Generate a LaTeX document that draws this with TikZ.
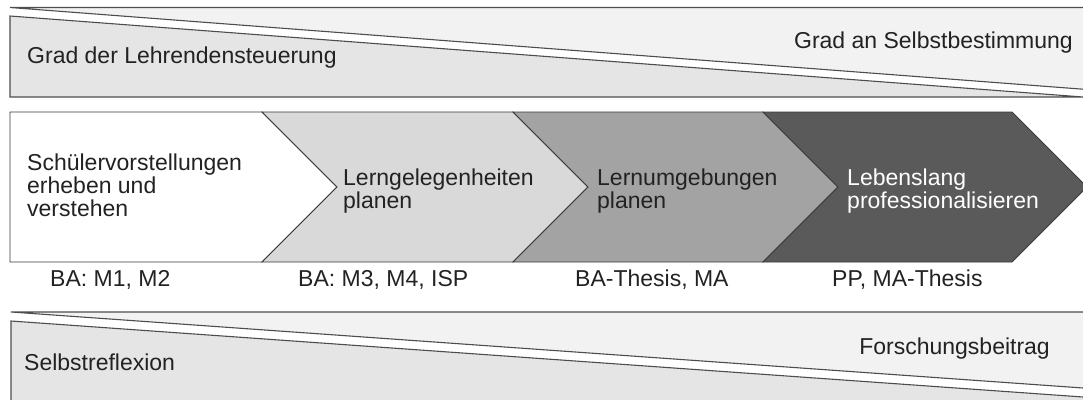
\documentclass[tikz,border=0pt]{standalone}
\usepackage{fontspec}
\setmainfont{Liberation Sans}
\definecolor{bandlight}{HTML}{F2F2F2}
\definecolor{banddark}{HTML}{E5E5E5}
\definecolor{bandline}{HTML}{4D4D4D}
\definecolor{chevline}{HTML}{3A3A3A}
\definecolor{cA}{HTML}{FFFFFF}
\definecolor{cB}{HTML}{D9D9D9}
\definecolor{cC}{HTML}{A3A3A3}
\definecolor{cD}{HTML}{5A5A5A}
\definecolor{txt}{HTML}{222222}
\begin{document}
\begin{tikzpicture}[x=1pt,y=-1pt,line join=miter,
  band/.style={draw=bandline,line width=1.1pt},
  chev/.style={draw=chevline,line width=0.9pt},
  lbl/.style={font=\fontsize{23}{23}\selectfont,text=txt,inner sep=0pt},
  multi/.style={lbl,align=left,anchor=base west}]
\useasboundingbox (0,0) rectangle (1083,399);
\begin{scope}
\clip (0,0) rectangle (1083,399);
% top band
\filldraw[band,fill=bandlight] (10,7.5) -- (1100,7.5) -- (1100,90.5) -- cycle;
\filldraw[band,fill=banddark] (10,16) -- (1083,97) -- (10,97) -- cycle;
% bottom band
\filldraw[band,fill=bandlight] (11,312) -- (1100,312) -- (1100,389.2) -- cycle;
\filldraw[band,fill=banddark] (11,321) -- (1100,398.2) -- (1100,420) -- (11,420) -- cycle;
% chevrons
\filldraw[chev,fill=cA] (10,112) -- (262,112) -- (337,187) -- (262,262) -- (10,262) -- cycle;
\filldraw[chev,fill=cB] (262,112) -- (513,112) -- (588,187) -- (513,262) -- (262,262) -- (337,187) -- cycle;
\filldraw[chev,fill=cC] (513,112) -- (763,112) -- (838,187) -- (763,262) -- (513,262) -- (588,187) -- cycle;
\filldraw[chev,fill=cD] (763,112) -- (1012,112) -- (1087,187) -- (1012,262) -- (763,262) -- (838,187) -- cycle;
\end{scope}
% band texts
\node[lbl,anchor=base west] (g1) at (27,63) {Grad der Lehrendensteuerung};
\node[lbl,anchor=base east] (g2) at (1073,48) {Grad an Selbstbestimmung};
\node[lbl,anchor=base west] (s1) at (24,370) {Selbstreflexion};
\node[lbl,anchor=base east] (f1) at (1050,354) {Forschungsbeitrag};
% chevron texts (base = last line)
\node[multi] (t1) at (27,216) {Schülervorstellungen\\erheben und\\verstehen};
\node[multi] (t2) at (343,208) {Lerngelegenheiten\\planen};
\node[multi] (t3) at (597,208) {Lernumgebungen\\planen};
\node[multi,text=white] (t4) at (847,208) {Lebenslang\\professionalisieren};
% labels
\node[lbl,anchor=base west] (b1) at (50,286) {BA: M1, M2};
\node[lbl,anchor=base west] (b2) at (298,286) {BA: M3, M4, ISP};
\node[lbl,anchor=base west] (b3) at (575,286) {BA-Thesis, MA};
\node[lbl,anchor=base west] (b4) at (832,286) {PP, MA-Thesis};
\end{tikzpicture}
\end{document}
